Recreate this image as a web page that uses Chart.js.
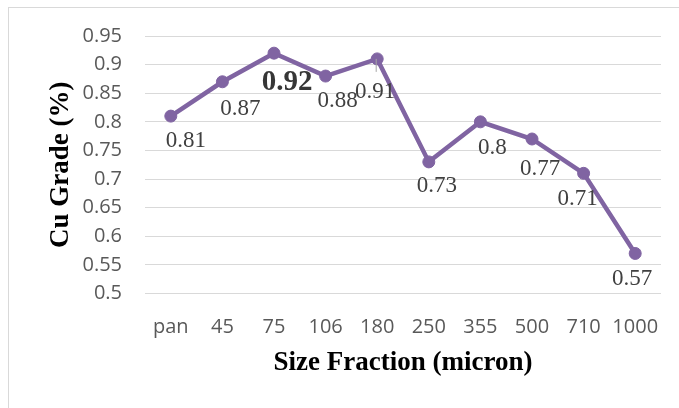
<!DOCTYPE html>
<html>
<head>
<meta charset="utf-8">
<script src="https://cdn.jsdelivr.net/npm/chart.js@4.4.1/dist/chart.umd.min.js"></script>
<style>
  html, body { margin: 0; padding: 0; background: #fff; overflow: hidden; }
  #wrap { position: relative; width: 679px; height: 408px; }
  #frame { position: absolute; left: 8px; top: 7px; width: 760px; height: 480px; border: 1px solid #d9d9d9; }
  #chart { position: absolute; left: 0; top: 0; }
</style>
</head>
<body>
<div id="wrap">
  <div id="frame"></div>
  <canvas id="chart" width="679" height="408"></canvas>
</div>
<script>
/* Cu grade by size fraction: single purple line, Excel-like styling */

const sizeFractions = ['pan', '45', '75', '106', '180', '250', '355', '500', '710', '1000'];
const cuGrade = [0.81, 0.87, 0.92, 0.88, 0.91, 0.73, 0.8, 0.77, 0.71, 0.57];
const yTicks = [0.5, 0.55, 0.6, 0.65, 0.7, 0.75, 0.8, 0.85, 0.9, 0.95];

const PURPLE = '#8064a2';
const GRID = '#d9d9d9';
const TICK_INK = '#595959';

// label placement relative to each point (styling only)
const labelShift = [[15, 25], [18, 27], [13, 29], [12, 25], [-2, 33], [8, 24], [12, 26], [8, 30], [-6, 26], [-3, 26]];
const boldIndex = 2;

const pointLabels = {
  id: 'pointLabels',
  afterDatasetsDraw(chart) {
    const meta = chart.getDatasetMeta(0);
    const ctx = chart.ctx;
    ctx.save();
    ctx.textAlign = 'center';
    ctx.textBaseline = 'middle';
    meta.data.forEach((pt, i) => {
      const [dx, dy] = labelShift[i];
      if (i === 4) {
        // small leader line like in the original
        ctx.strokeStyle = '#a6a6a6';
        ctx.lineWidth = 1;
        ctx.beginPath();
        ctx.moveTo(pt.x - 1, pt.y);
        ctx.lineTo(pt.x - 1, pt.y + 13);
        ctx.stroke();
      }
      if (i === boldIndex) {
        ctx.font = 'bold 29px "Liberation Serif", "Times New Roman", serif';
        ctx.fillStyle = '#363636';
      } else {
        ctx.font = '23px "Liberation Serif", "Times New Roman", serif';
        ctx.fillStyle = '#404040';
      }
      ctx.fillText(String(cuGrade[i]), pt.x + dx, pt.y + dy);
    });
    ctx.restore();
  }
};

new Chart(document.getElementById('chart'), {
  type: 'line',
  data: {
    labels: sizeFractions,
    datasets: [{
      data: cuGrade,
      borderColor: PURPLE,
      backgroundColor: PURPLE,
      borderWidth: 4.5,
      pointRadius: 6,
      pointBorderWidth: 1,
      pointBackgroundColor: PURPLE,
      pointBorderColor: PURPLE,
      tension: 0,
    }]
  },
  options: {
    responsive: false,
    animation: false,
    layout: { padding: { top: 36, right: 18, bottom: 0, left: 0 } },
    plugins: { legend: { display: false }, tooltip: { enabled: false } },
    scales: {
      x: {
        offset: true,
        grid: { display: false },
        border: { display: false },
        ticks: {
          color: TICK_INK,
          padding: 14,
          maxRotation: 0,
          font: { family: '"Open Sans", sans-serif', size: 20 }
        },
        title: {
          display: true,
          text: 'Size Fraction (micron)',
          color: '#000',
          padding: { top: 0, bottom: 29 },
          font: { family: '"Liberation Serif", "Times New Roman", serif', size: 27, weight: 'bold' }
        },
        afterFit: s => { s.height = 114.5; }
      },
      y: {
        min: 0.5,
        max: 0.95,
        afterBuildTicks: s => { s.ticks = yTicks.map(v => ({ value: v })); },
        grid: { color: GRID, lineWidth: 1, drawTicks: false },
        border: { display: false },
        ticks: {
          color: TICK_INK,
          padding: 23,
          callback: v => String(Math.round(v * 100) / 100),
          font: { family: '"Open Sans", sans-serif', size: 20 }
        },
        title: {
          display: true,
          text: 'Cu Grade (%)',
          color: '#000',
          padding: { top: 45, bottom: 0 },
          font: { family: '"Liberation Serif", "Times New Roman", serif', size: 27, weight: 'bold' }
        },
        afterFit: s => { s.width = 145; }
      }
    }
  },
  plugins: [pointLabels]
});
</script>
</body>
</html>
